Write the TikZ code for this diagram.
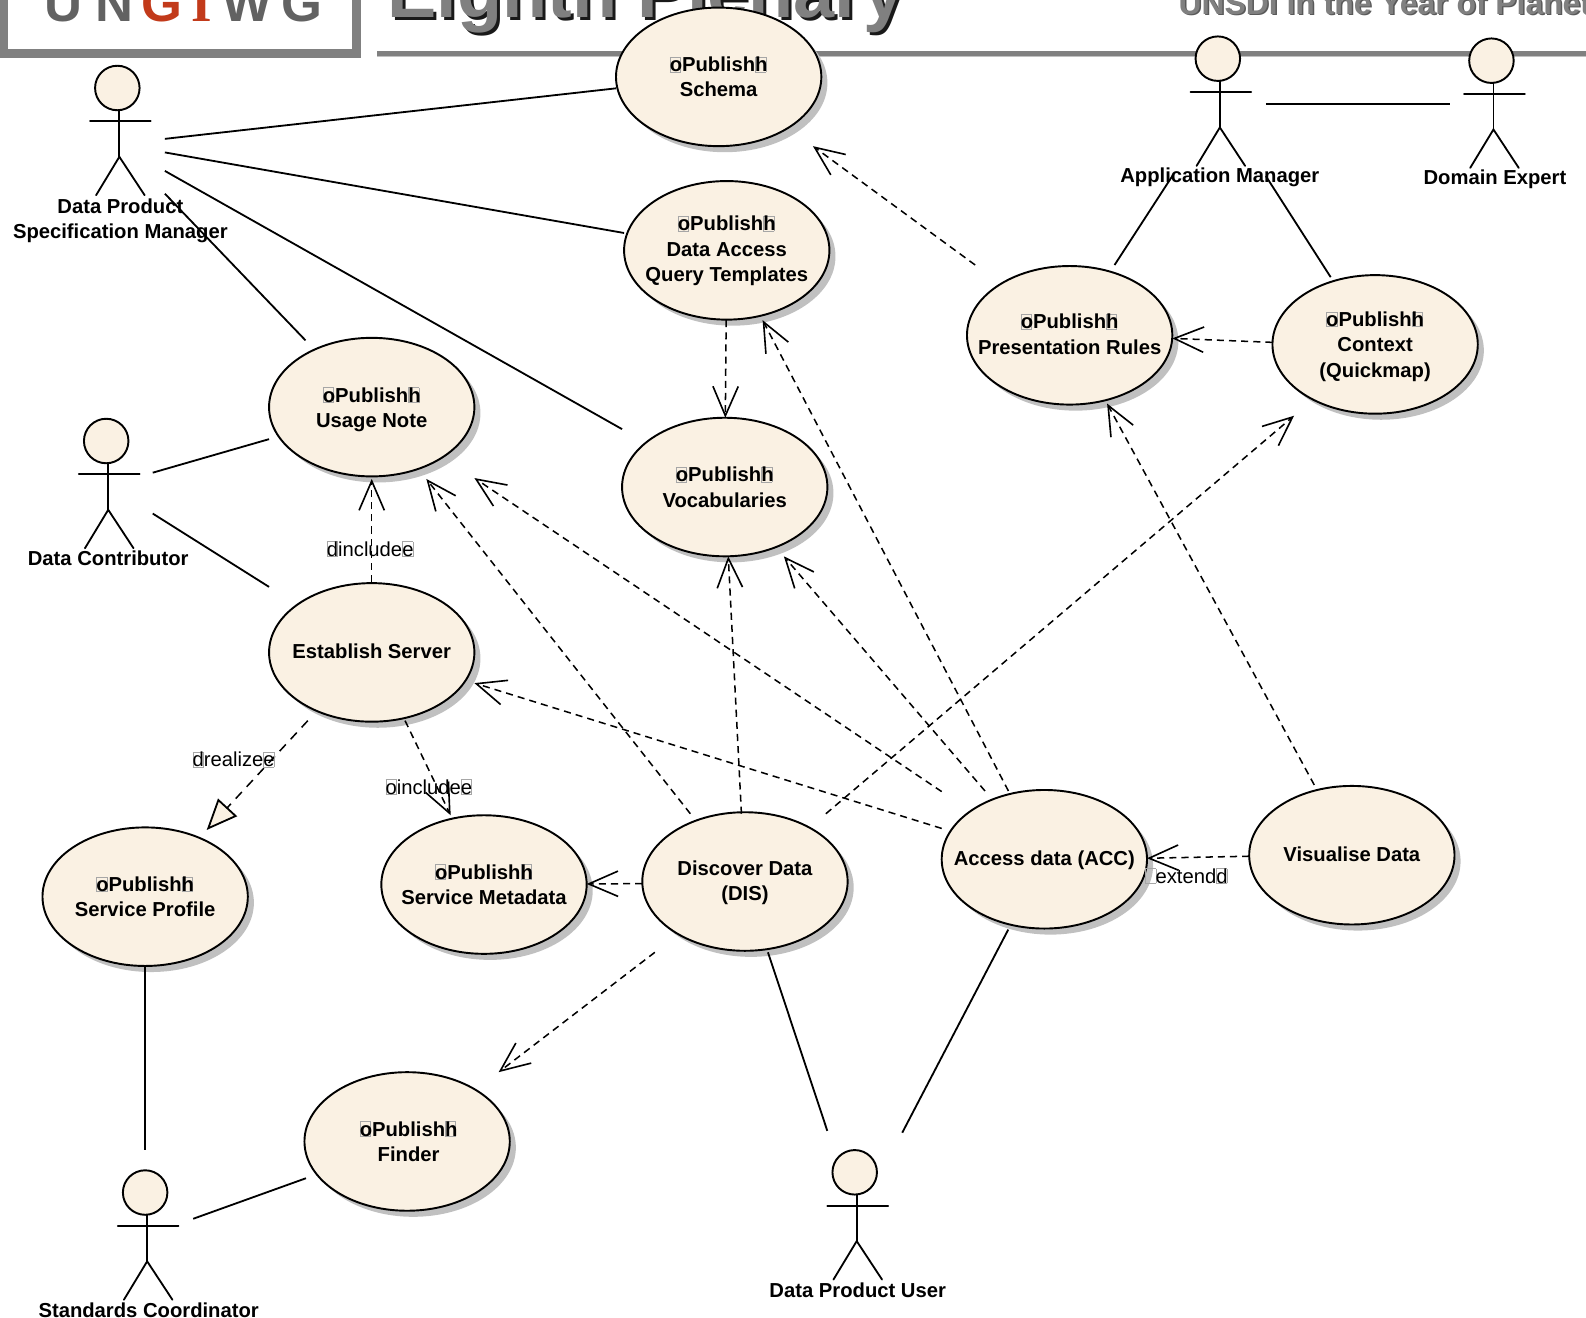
\documentclass[tikz,border=0pt]{standalone}
\usepackage{fontspec}
\setmainfont{Liberation Sans}
\newfontfamily\logoserif{Liberation Serif}
\usetikzlibrary{arrows.meta}
\definecolor{cream}{HTML}{FAF1E3}
\definecolor{shadowc}{HTML}{C0C0C0}
\definecolor{headgray}{HTML}{808080}
\definecolor{logored}{HTML}{C23A1A}
\definecolor{logogray}{HTML}{626262}
\newcommand\tofu{\makebox[0pt][l]{\color{gray!70}\setlength\fboxrule{0.7pt}\setlength\fboxsep{0pt}\fbox{\rule{9.5pt}{0pt}\rule{0pt}{14pt}}}}
\newcommand\pub{\tofu oPublish\tofu h}
\newcommand\ucfont{\fontsize{20}{25}\selectfont\bfseries}
\newcommand\ucase[5][]{%
  \fill[shadowc] (#3+6,#4+6) ellipse [x radius=101.5pt,y radius=68.5pt];
  \draw[fill=cream,line width=1.9pt] (#3,#4) ellipse [x radius=101.5pt,y radius=68.5pt];
  \node[ucbox,#1] (#2) at (#3,#4) {#5};}
\newcommand\actorfig[2]{%
  \draw[fill=cream,line width=1.9pt] (#1,#2) circle [radius=22pt];
  \draw[stick] (#1+2,#2+22) -- (#1+2,#2+68);
  \draw[stick] (#1-27,#2+33) -- (#1+33,#2+33);
  \draw[stick] (#1-21,#2+106) -- (#1+2,#2+68) -- (#1+27,#2+106);}
\tikzset{
  x=1pt,y=-1pt,
  ucbox/.style={rectangle,minimum width=203pt,minimum height=137pt,inner sep=0pt,outer sep=0pt,align=center,font=\ucfont},
  actbox/.style={rectangle,inner sep=0pt,outer sep=0pt},
  actlabel/.style={inner sep=0pt,align=center,font=\ucfont},
  stereo/.style={inner sep=0pt,font=\fontsize{20}{25}\selectfont},
  logoletter/.style={anchor=base,inner sep=0pt,font=\fontsize{52}{52}\selectfont\bfseries},
  stick/.style={line width=1.8pt,line cap=round},
  assoc/.style={line width=1.8pt},
  dep/.style={line width=1.5pt,dash pattern=on 7pt off 5pt,-{Straight Barb[length=29pt,width=25pt,line width=1.6pt]}},
  real/.style={line width=1.5pt,dash pattern=on 9pt off 7pt,shorten >=-3.5pt,-{Triangle[open,length=30.5pt,width=25.5pt,fill=cream,line width=1.8pt]}},
}
\begin{document}
\begin{tikzpicture}
\useasboundingbox (0,0) rectangle (1568,1303);
% slide header behind the diagram
\draw[headgray,line width=8.7pt] (4,-30) rectangle (352.5,52.8);
\node[logoletter,text=logogray] (logoU) at (63,21.5) {U};
\node[logoletter,text=logogray] (logoN) at (113.5,21.5) {N};
\node[logoletter,text=logored] (logoG) at (160.5,21.5) {G};
\node[logoletter,text=logored,font=\fontsize{52}{52}\selectfont\logoserif\bfseries] (logoI) at (199.5,21.5) {I};
\node[logoletter,text=logogray] (logoW) at (244.5,21.5) {W};
\node[logoletter,text=logogray] (logoH) at (299,21.5) {G};
\fill[shadowc] (373,53) rectangle (1568,56);
\fill[headgray] (373,50) rectangle (1568,55);
\node[anchor=base west,inner sep=0pt,text=black!90,font=\fontsize{73}{73}\selectfont\bfseries] (titleshadow) at (386,20) {Eighth Plenary};
\node[anchor=base west,inner sep=0pt,text=headgray,font=\fontsize{73}{73}\selectfont\bfseries] (title) at (383,17) {Eighth Plenary};
\node[anchor=base west,inner sep=0pt,text=black!65,font=\fontsize{31.5}{32}\selectfont\bfseries] (subshadow) at (1166.5,15.5) {UNSDI in the Year of Planet};
\node[anchor=base west,inner sep=0pt,text=headgray,font=\fontsize{31.5}{32}\selectfont\bfseries] (subtitle) at (1165,14) {UNSDI in the Year of Planet};
% use cases
\ucase{schema}{710.5}{76}{\pub\\Schema}
\ucase[yshift=-0.5pt]{access}{718.5}{247.5}{\pub\\Data Access\\Query Templates}
\ucase[yshift=1pt]{present}{1057.5}{331.5}{\pub\\Presentation Rules}
\ucase[yshift=-2pt]{context}{1359.5}{340.5}{\pub\\Context\\(Quickmap)}
\ucase[yshift=-2.5pt]{usage}{367.5}{402.5}{\pub\\Usage Note}
\ucase{vocab}{716.5}{481.5}{\pub\\Vocabularies}
\ucase[yshift=1pt]{establish}{367.5}{645}{Establish Server}
\ucase{profile}{143.5}{886.5}{\pub\\Service Profile}
\ucase{metadata}{478.5}{874.5}{\pub\\Service Metadata}
\ucase[yshift=-1.5pt]{discover}{736.5}{871.5}{Discover Data\\(DIS)}
\ucase[yshift=-1pt]{acc}{1032.5}{849.5}{Access data (ACC)}
\ucase[yshift=1pt]{visual}{1336.5}{845.5}{Visualise Data}
\ucase[xshift=1.5pt]{finder}{402.5}{1128.5}{\pub\\Finder}
% actors
\actorfig{116}{87}
\actorfig{105}{436}
\actorfig{1204}{58}
\actorfig{1474.5}{60}
\actorfig{143.5}{1179}
\actorfig{845}{1159}
\node[actbox,minimum width=94pt,minimum height=110pt] (dpsm) at (116,142.5) {};
\node[actbox,minimum width=88pt,minimum height=140pt] (contrib) at (107,480) {};
\node[actbox,minimum width=92pt,minimum height=144pt] (appman) at (1205.5,102.5) {};
\node[actbox,minimum width=88pt,minimum height=148pt] (domain) at (1478,102.5) {};
\node[actbox,minimum width=95pt,minimum height=170pt] (stdco) at (143.5,1222) {};
\node[actbox,minimum width=90pt,minimum height=176pt] (dpuser) at (847,1206) {};
\node[actlabel] (dpsmlabel) at (119,218) {Data Product\\Specification Manager};
\node[actlabel] (contriblabel) at (107,552) {Data Contributor};
\node[actlabel] (appmanlabel) at (1206,175.5) {Application Manager};
\node[actlabel] (domainlabel) at (1478,177.5) {Domain Expert};
\node[actlabel] (stdcolabel) at (147,1295) {Standards Coordinator};
\node[actlabel] (dpuserlabel) at (848,1275.5) {Data Product User};
% associations
\draw[assoc] (dpsm) -- (schema);
\draw[assoc] (dpsm) -- (access);
\draw[assoc] (dpsm) -- (vocab);
\draw[assoc] (dpsm) -- (usage);
\draw[assoc] (contrib) -- (usage);
\draw[assoc] (contrib) -- (establish);
\draw[assoc] (appman) -- (domain);
\draw[assoc] (appman) -- (present);
\draw[assoc] (appman) -- (context);
\draw[assoc] (profile) -- (stdco);
\draw[assoc] (stdco) -- (finder);
\draw[assoc] (discover) -- (dpuser);
\draw[assoc] (acc) -- (dpuser);
% dependencies
\draw[dep] (present) -- (schema);
\draw[dep] (access) -- (vocab);
\draw[dep] (acc) -- (access);
\draw[dep] (acc) -- (vocab);
\draw[dep] (acc) -- (usage);
\draw[dep] (acc) -- (establish);
\draw[dep] (discover) -- (usage);
\draw[dep] (discover) -- (vocab);
\draw[dep] (discover) -- (metadata);
\draw[dep] (discover) -- (finder);
\draw[dep] (discover) -- (context);
\draw[dep] (visual) -- (acc);
\draw[dep] (visual) -- (present);
\draw[dep] (context) -- (present);
\draw[dep] (establish) -- (usage);
\draw[dep] (establish) -- (metadata);
\draw[real] (establish) -- (profile);
% stereotypes
\node[stereo] (inc1) at (366,543) {\tofu dinclude\tofu e};
\node[stereo] (inc2) at (424,778) {\tofu oinclude\tofu e};
\node[stereo] (realz) at (231,751) {\tofu drealize\tofu e};
\node[stereo] (ext) at (1173,866) {\tofu\kern10pt extend\tofu d};
\end{tikzpicture}
\end{document}
